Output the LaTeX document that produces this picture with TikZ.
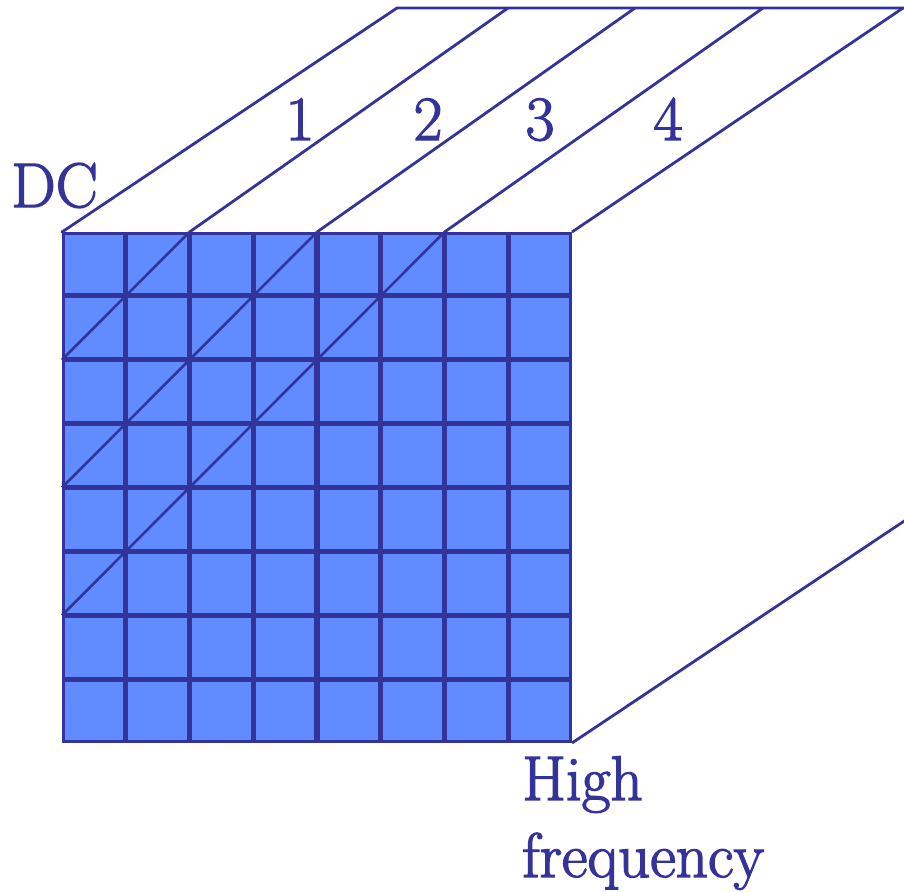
\documentclass[tikz,border=0pt]{standalone}
\definecolor{ink}{RGB}{51,51,153}
\definecolor{cellfill}{RGB}{96,140,255}
\newcommand{\heavytext}[1]{\special{pdf:literal direct q 2 Tr 1.3 w}#1\special{pdf:literal direct Q}}
\begin{document}
\begin{tikzpicture}[x=1pt,y=-1pt,
  cellbox/.style={draw=ink,fill=cellfill,line width=2.6pt,minimum width=61.15pt,minimum height=61.3pt,inner sep=0pt,outer sep=0pt},
  edge/.style={draw=ink,line width=2.8pt},
  diag/.style={draw=ink,line width=2.6pt},
  lbl/.style={text=ink,font=\fontsize{63}{75}\selectfont,inner sep=0pt}]
\useasboundingbox (0,0) rectangle (904,891);
\begin{scope}
\clip (0,0) rectangle (904,891);
% cells
\foreach \i in {0,...,7}{
  \foreach \j in {0,...,7}{
    \node[cellbox] (c-\i-\j) at ({62+63.75*\i+31.875},{232+63.875*\j+31.94}) {};
  }
}
% corners
\coordinate (g0) at (62,232);
\coordinate (g2) at (189.5,232);
\coordinate (g4) at (317,232);
\coordinate (g6) at (444.5,232);
\coordinate (g8) at (572,232);
\coordinate (br) at (572,743);
\coordinate (t0) at (397,8);
\coordinate (t1) at (508,8);
\coordinate (t2) at (635,8);
\coordinate (t3) at (763,8);
\coordinate (t4) at (903,8);
\coordinate (tr) at (906,8);
\coordinate (re) at (905,520.5);
\coordinate (l2) at (62,359.75);
\coordinate (l4) at (62,487.5);
\coordinate (l6) at (62,615.25);
% diagonals across the face
\draw[diag] (l2) -- (g2);
\draw[diag] (l4) -- (g4);
\draw[diag] (l6) -- (g6);
% top face
\draw[edge,line cap=round] (g0) -- (t0) -- (tr);
\draw[edge] (g2) -- (t1);
\draw[edge] (g4) -- (t2);
\draw[edge] (g6) -- (t3);
\draw[edge] (g8) -- (t4);
% right face edge
\draw[edge] (br) -- (re);
\end{scope}
% labels
\node[lbl,anchor=base west] (dc) at (11,207) {\heavytext{DC}};
\node[lbl,anchor=base] (n1) at (300,140) {\heavytext{1}};
\node[lbl,anchor=base] (n2) at (428,140) {\heavytext{2}};
\node[lbl,anchor=base] (n3) at (540,140) {\heavytext{3}};
\node[lbl,anchor=base] (n4) at (668,140) {\heavytext{4}};
\node[lbl,anchor=base west] (hi) at (522,800) {\heavytext{High}};
\node[lbl,anchor=base west] (fr) at (522,877) {\heavytext{frequency}};
\end{tikzpicture}
\end{document}
